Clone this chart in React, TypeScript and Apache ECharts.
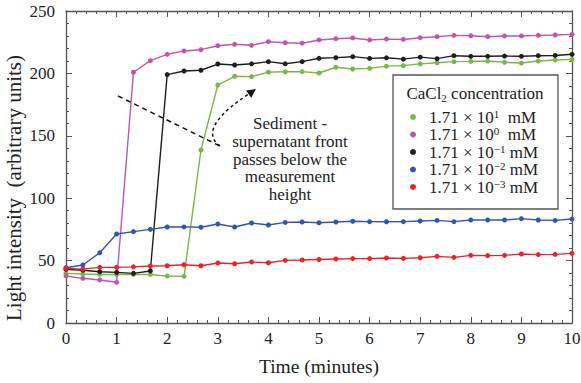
import React, { useEffect, useRef } from 'react';
import * as echarts from 'echarts';

const timeMinutes = [0, 0.333, 0.667, 1, 1.333, 1.667, 2, 2.333, 2.667, 3, 3.333, 3.667, 4, 4.333, 4.667, 5, 5.333, 5.667, 6, 6.333, 6.667, 7, 7.333, 7.667, 8, 8.333, 8.667, 9, 9.333, 9.667, 10];

const conc1e1 = [39.8, 39.3, 38.9, 38.9, 38.9, 38.9, 37.6, 37.4, 138.6, 190.7, 197.7, 197.4, 201, 201.3, 201.4, 200.3, 204.9, 203.5, 204, 205.8, 206.2, 207.6, 208.5, 209.4, 209.6, 209.9, 208.9, 208.3, 209.9, 210.7, 211.2];
const conc1e0 = [37.7, 35.8, 34.5, 32.6, 200.9, 210.2, 215.3, 218, 219, 222.2, 223.3, 222.5, 225.4, 224.6, 224.2, 226.8, 227.8, 228.4, 226.8, 227.5, 227.2, 228.6, 229.4, 230.5, 230.2, 229.4, 230, 230, 230.5, 230.8, 231.3];
const conc1em1 = [43, 42.3, 41.1, 40.6, 39.8, 41.7, 199, 201.9, 202.5, 207.5, 206.7, 207.7, 209.4, 207.7, 209.4, 212.1, 212.6, 213.4, 212, 212.5, 211.4, 213, 211.8, 214.2, 213.7, 213.7, 213.9, 213.7, 214.2, 214.4, 215.3];
const conc1em2 = [44.3, 46.5, 56.3, 71.3, 73.2, 75, 76.9, 77, 76.7, 79.3, 76.9, 80.1, 78.5, 80.6, 80.9, 80.3, 80.9, 81.5, 81.2, 81.1, 81.2, 81.7, 82.2, 81.2, 82.5, 82.5, 82.5, 83.6, 82.5, 82.2, 83.3];
const conc1em3 = [43.8, 43.2, 44.6, 44.6, 45, 45.7, 45.9, 46.7, 45.9, 48.1, 47.5, 48.9, 48.3, 50.2, 50.5, 50.9, 51.3, 51.6, 51.6, 52.1, 51.8, 52.3, 53.4, 52.6, 54.2, 54, 54.2, 55.3, 54.8, 55, 55.8];

const seriesNames = ['1.71 × 10¹ mM', '1.71 × 10⁰ mM', '1.71 × 10⁻¹ mM', '1.71 × 10⁻² mM', '1.71 × 10⁻³ mM'];
const seriesExponents = ['1', '0', '−1', '−2', '−3'];
const seriesValues = [conc1e1, conc1e0, conc1em1, conc1em2, conc1em3];
const seriesColors = ['#7ab648', '#c254ad', '#1e1e1e', '#3355b0', '#ec2229'];

const xTicks = [0, 10, 1];
const yTicks = [0, 250, 50];

const SERIF = '"Liberation Serif", "Times New Roman", serif';

export default function App() {
  const ref = useRef<HTMLDivElement>(null);
  useEffect(() => {
    if (!ref.current) return;
    const chart = echarts.init(ref.current, undefined, { renderer: 'svg' });
    const axisCommon = (show: boolean, margin: number) => ({
      axisLine: { show: true, onZero: false, lineStyle: { color: '#555', width: 1.3 } },
      axisTick: { show: true, inside: true, length: 6, lineStyle: { color: '#555', width: 1 } },
      minorTick: { show: true, splitNumber: 5, length: 3, lineStyle: { color: '#555', width: 1 } },
      splitLine: { show: false },
      axisLabel: { show, color: '#222', fontFamily: SERIF, fontSize: 17, margin },
    });
    const series = seriesNames.map((name, i) => ({
      name,
      type: 'line',
      data: timeMinutes.map((t, j) => [t, seriesValues[i][j]]),
      symbol: 'circle',
      symbolSize: 5,
      showSymbol: true,
      lineStyle: { color: seriesColors[i], width: 1.4 },
      itemStyle: { color: seriesColors[i] },
      z: 2 + i,
    }));
    const legendMap: Record<string, string> = {};
    seriesNames.forEach((n, i) => {
      legendMap[n] = `{t|1.71 × 10}{s|${seriesExponents[i]}}{t|${seriesExponents[i].length === 1 ? '  ' : ' '}mM}`;
    });
    chart.setOption({
      animation: false,
      backgroundColor: '#fff',
      grid: { left: 66, right: 9, top: 11, bottom: 60, containLabel: false, outerBoundsMode: 'none' },
      xAxis: [
        {
          type: 'value', min: xTicks[0], max: xTicks[1], interval: xTicks[2], position: 'bottom',
          name: 'Time (minutes)', nameLocation: 'middle', nameGap: 33, nameMoveOverlap: false,
          nameTextStyle: { fontFamily: SERIF, fontSize: 19.5, color: '#222' },
          ...axisCommon(true, 7),
        },
        {
          type: 'value', min: xTicks[0], max: xTicks[1], interval: xTicks[2], position: 'top',
          ...axisCommon(false, 7),
        },
      ],
      yAxis: [
        {
          type: 'value', min: yTicks[0], max: yTicks[1], interval: yTicks[2], position: 'left',
          name: 'Light intensity  (arbitrary units)', nameLocation: 'middle', nameGap: 42, nameMoveOverlap: false,
          nameTextStyle: { fontFamily: SERIF, fontSize: 21, color: '#222', padding: [0, 42, 0, 0] },
          ...axisCommon(true, 11),
        },
        {
          type: 'value', min: yTicks[0], max: yTicks[1], interval: yTicks[2], position: 'right',
          ...axisCommon(false, 11),
        },
      ],
      legend: {
        data: seriesNames,
        orient: 'vertical',
        left: 410,
        top: 108,
        z: 30,
        itemGap: 0,
        itemWidth: 6,
        itemHeight: 6,
        icon: 'circle',
        padding: 0,
        formatter: (n: string) => legendMap[n],
        textStyle: {
          color: '#222', fontFamily: SERIF, fontSize: 17, padding: [0, 0, 0, 8],
          rich: {
            t: { fontFamily: SERIF, fontSize: 17, color: '#222', lineHeight: 18 },
            s: { fontFamily: SERIF, fontSize: 11, color: '#222', lineHeight: 10, verticalAlign: 'top' },
          },
        },
      },
      graphic: [
        {
          type: 'rect', shape: { x: 393, y: 75, width: 165, height: 134 },
          style: { fill: '#fff', stroke: '#555', lineWidth: 1.3 }, z: 10,
        },
        {
          type: 'text', x: 475, y: 93, z: 11,
          style: {
            text: '{a|CaCl}{b|2}{a| concentration}', align: 'center', verticalAlign: 'middle',
            rich: {
              a: { fontFamily: SERIF, fontSize: 17, fill: '#222', lineHeight: 20 },
              b: { fontFamily: SERIF, fontSize: 11, fill: '#222', lineHeight: 10, verticalAlign: 'bottom' },
            },
          },
        },
        {
          type: 'line', shape: { x1: 118, y1: 96, x2: 222, y2: 147 }, z: 12,
          style: { stroke: '#111', lineWidth: 1.5, lineDash: [5, 4] },
        },
        {
          type: 'bezierCurve', z: 12,
          shape: { x1: 220, y1: 146, cpx1: 200, cpy1: 132, cpx2: 224, cpy2: 110, x2: 248.6, y2: 94.1 },
          style: { stroke: '#111', lineWidth: 1.5, lineDash: [3, 3], fill: null },
        },
        {
          type: 'polygon', z: 12,
          shape: { points: [[256, 89], [251.2, 97.8], [246, 90.4]] },
          style: { fill: '#111' },
        },
        {
          type: 'text', x: 290, y: 115, z: 12,
          style: {
            text: 'Sediment -\nsupernatant front\npasses below the\nmeasurement\nheight',
            align: 'center', fontFamily: SERIF, fontSize: 17, lineHeight: 17.6, fill: '#222',
          },
        },
      ],
      series,
    });
    return () => chart.dispose();
  }, []);
  return <div ref={ref} style={{ position: 'fixed', left: 0, top: 0, width: 581, height: 383 }} />;
}
